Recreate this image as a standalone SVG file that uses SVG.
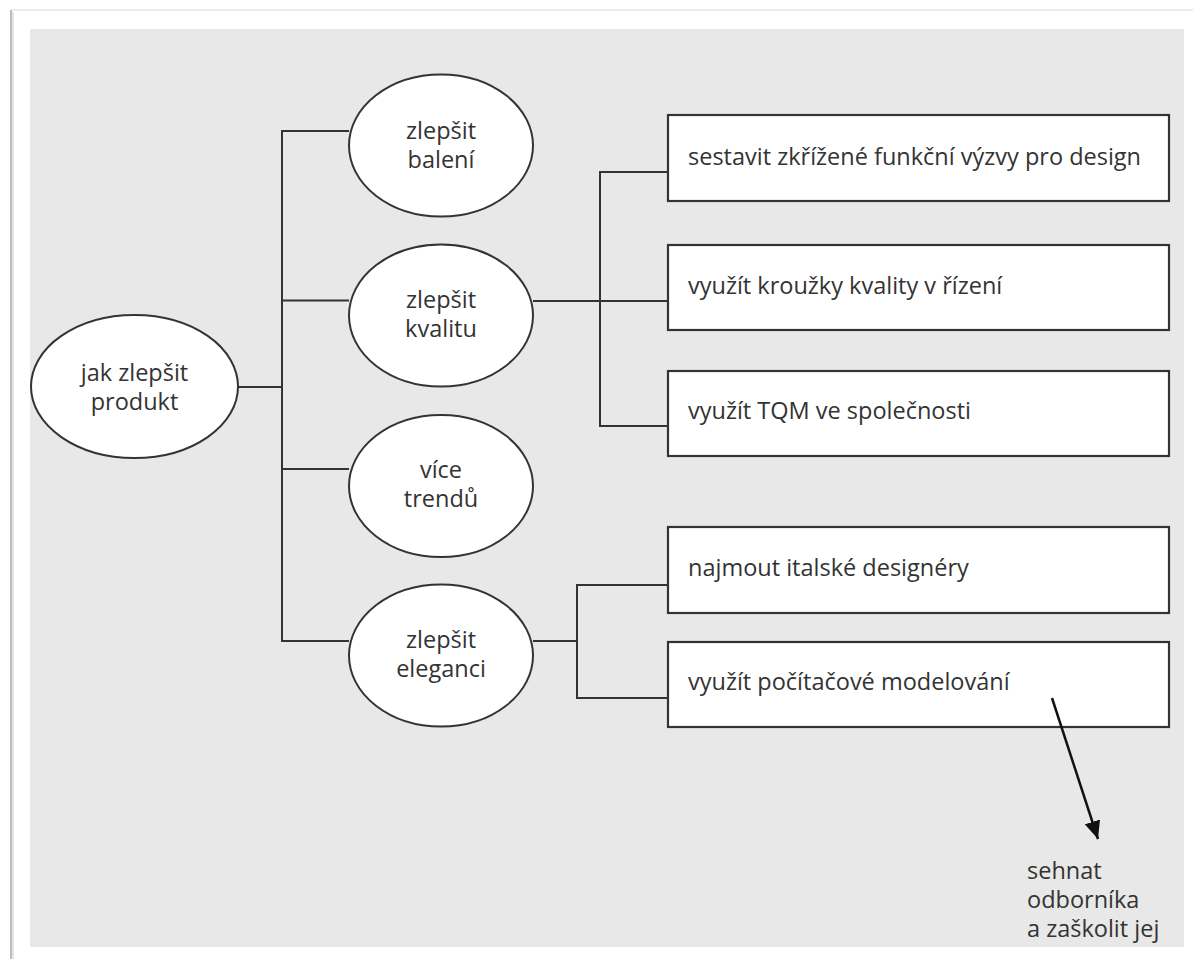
<svg xmlns="http://www.w3.org/2000/svg" width="1193" height="959" viewBox="0 0 1193 959">
<defs>
<style>
.ln{fill:none;stroke:#333;stroke-width:2}
.el{fill:#fff;stroke:#333;stroke-width:2}
.bx{fill:#fff;stroke:#333;stroke-width:2.2}
.t{font-family:"Open Sans","Noto Sans",sans-serif;font-size:23.5px;fill:#333}
.c{text-anchor:middle}
</style>
<marker id="ah2" viewBox="0 0 18 16" refX="18" refY="8" markerWidth="18" markerHeight="16" markerUnits="userSpaceOnUse" orient="auto">
<path d="M0,0 L18,8 L0,16 Z" fill="#111"/>
</marker>
</defs>
<rect x="0" y="0" width="1193" height="959" fill="#fff"/>
<line x1="11" y1="10" x2="1193" y2="10" stroke="#ececec" stroke-width="2"/>
<line x1="11" y1="10" x2="11" y2="959" stroke="#bdbdbd" stroke-width="2"/>
<line x1="13" y1="12" x2="13" y2="959" stroke="#e6e6e6" stroke-width="2"/>
<rect x="30" y="29" width="1154" height="918" fill="#e8e8e8"/>

<g id="root">
<ellipse class="el" cx="134.5" cy="386.5" rx="103.5" ry="71.5"/>
<text class="t c" x="134.5" y="381">jak zlepšit</text>
<text class="t c" x="134.5" y="410">produkt</text>
</g>
<g id="baleni">
<ellipse class="el" cx="441" cy="145.5" rx="92" ry="71"/>
<text class="t c" x="441" y="139">zlepšit</text>
<text class="t c" x="441" y="168">balení</text>
</g>
<g id="kvalitu">
<ellipse class="el" cx="441" cy="315.5" rx="92" ry="71"/>
<text class="t c" x="441" y="308">zlepšit</text>
<text class="t c" x="441" y="337">kvalitu</text>
</g>
<g id="trendu">
<ellipse class="el" cx="441" cy="486" rx="92" ry="71"/>
<text class="t c" x="441" y="478">více</text>
<text class="t c" x="441" y="507">trendů</text>
</g>
<g id="eleganci">
<ellipse class="el" cx="441" cy="655.5" rx="92" ry="71"/>
<text class="t c" x="441" y="648">zlepšit</text>
<text class="t c" x="441" y="677">eleganci</text>
</g>

<g id="box1">
<rect class="bx" x="668" y="115" width="501" height="86"/>
<text class="t" x="688" y="165">sestavit zkřížené funkční výzvy pro design</text>
</g>
<g id="box2">
<rect class="bx" x="668" y="245" width="501" height="85"/>
<text class="t" x="688" y="294">využít kroužky kvality v řízení</text>
</g>
<g id="box3">
<rect class="bx" x="668" y="371" width="501" height="85"/>
<text class="t" x="688" y="419">využít TQM ve společnosti</text>
</g>
<g id="box4">
<rect class="bx" x="668" y="527" width="501" height="86"/>
<text class="t" x="688" y="576">najmout italské designéry</text>
</g>
<g id="box5">
<rect class="bx" x="668" y="642" width="501" height="85"/>
<text class="t" x="688" y="690">využít počítačové modelování</text>
</g>

<g id="note">
<text class="t" x="1027" y="879">sehnat</text>
<text class="t" x="1027" y="908">odborníka</text>
<text class="t" x="1027" y="937">a zaškolit jej</text>
</g>

<g id="connectors">
<path class="ln" d="M238,387 H282"/>
<path class="ln" d="M349,131 H282 V641 H349"/>
<path class="ln" d="M282,300.5 H349"/>
<path class="ln" d="M282,469 H349"/>
<path class="ln" d="M533,301 H668"/>
<path class="ln" d="M668,172 H600 V426 H668"/>
<path class="ln" d="M533,641 H577"/>
<path class="ln" d="M668,585 H577 V698 H668"/>
<line x1="1052" y1="698" x2="1098" y2="839" stroke="#111" stroke-width="2.5" marker-end="url(#ah2)"/>
</g>
</svg>
